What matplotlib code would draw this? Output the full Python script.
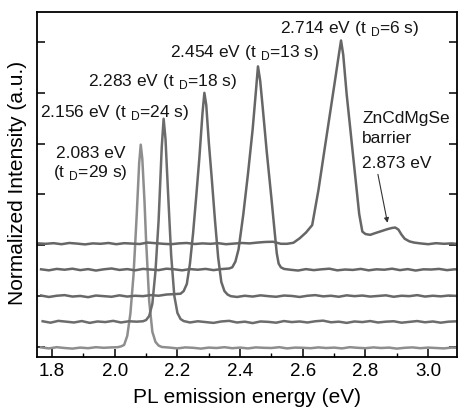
import matplotlib
matplotlib.use("Agg")
import matplotlib.pyplot as plt
from matplotlib.ticker import MultipleLocator

plt.rcParams['font.family'] = ['Liberation Sans', 'DejaVu Sans']
plt.rcParams['mathtext.fontset'] = 'custom'
plt.rcParams['mathtext.rm'] = 'Liberation Sans'

# --- spectra (energy in eV, intensity normalized to peak = 1) ---
e_2083 = [1.765, 1.79, 1.815, 1.84, 1.865, 1.89, 1.915, 1.94, 1.965, 1.99,
          2.01, 2.02, 2.03, 2.04, 2.05, 2.06, 2.07, 2.078, 2.083, 2.088, 2.095, 2.10,
          2.11, 2.12, 2.13, 2.14, 2.15,
          2.175, 2.20, 2.225, 2.25, 2.275, 2.30, 2.325, 2.35, 2.375, 2.40, 2.425, 2.45,
          2.475, 2.50, 2.525, 2.55, 2.575, 2.60, 2.625, 2.65, 2.675, 2.70, 2.725, 2.75,
          2.775, 2.80, 2.825, 2.85, 2.875, 2.90, 2.925, 2.95, 2.975, 3.00, 3.025, 3.05,
          3.075, 3.095]
i_2083 = [0.003, -0.002, 0.004, 0.000, -0.003, 0.002, -0.001, 0.004, 0.001, 0.003,
          0.004, 0.008, 0.015, 0.06, 0.17, 0.36, 0.65, 0.91, 1.0, 0.93, 0.72, 0.53,
          0.23, 0.08, 0.03, 0.012, 0.005,
          0.002, -0.002, 0.003, 0.001, -0.003, 0.002, 0.000, 0.004, -0.001, 0.002, -0.002, 0.003,
          0.001, 0.000, 0.004, -0.002, 0.002, 0.001, -0.001, 0.003, 0.000, 0.002, -0.002, 0.004,
          0.001, -0.001, 0.003, 0.000, 0.002, -0.003, 0.001, 0.003, -0.001, 0.002, 0.000, -0.002,
          0.002, 0.001]

e_2156 = [1.77, 1.795, 1.82, 1.845, 1.87, 1.895, 1.92, 1.945, 1.97, 1.995, 2.02, 2.045, 2.07,
          2.09, 2.10, 2.11, 2.12, 2.13, 2.14, 2.15, 2.156, 2.162, 2.17, 2.18, 2.19, 2.20, 2.21, 2.22,
          2.24,
          2.265, 2.29, 2.315, 2.34, 2.365, 2.39, 2.415, 2.44, 2.465, 2.49, 2.515, 2.54, 2.565,
          2.59, 2.615, 2.64, 2.665, 2.69, 2.715, 2.74, 2.765, 2.79, 2.815, 2.84, 2.865, 2.89,
          2.915, 2.94, 2.965, 2.99, 3.015, 3.04, 3.065, 3.095]
i_2156 = [0.004, -0.003, 0.006, 0.002, -0.002, 0.005, -0.004, 0.003, 0.000, 0.006, -0.002, 0.004, 0.002,
          0.004, 0.01, 0.03, 0.09, 0.25, 0.50, 0.86, 1.0, 0.90, 0.64, 0.33, 0.13, 0.045, 0.015, 0.005,
          -0.002,
          0.004, 0.000, -0.004, 0.003, 0.006, -0.002, 0.002, -0.005, 0.003, 0.001, -0.003, 0.005, 0.000,
          0.003, -0.002, 0.004, 0.007, -0.001, 0.002, -0.004, 0.003, 0.000, 0.005, -0.002, 0.002, 0.004,
          -0.003, 0.001, 0.005, -0.001, 0.003, -0.003, 0.002, 0.004]

e_2283 = [1.765, 1.79, 1.815, 1.84, 1.865, 1.89, 1.915, 1.94, 1.965, 1.99, 2.015, 2.04, 2.065,
          2.09, 2.115, 2.14, 2.165, 2.19,
          2.21, 2.22, 2.23, 2.24, 2.25, 2.26, 2.27, 2.28, 2.286, 2.292, 2.30, 2.31, 2.32, 2.33,
          2.34, 2.35, 2.36, 2.37,
          2.39, 2.415, 2.44, 2.465, 2.49, 2.515, 2.54, 2.565, 2.59, 2.615, 2.64, 2.665, 2.69,
          2.715, 2.74, 2.765, 2.79, 2.815, 2.84, 2.865, 2.89, 2.915, 2.94, 2.965, 2.99, 3.015,
          3.04, 3.065, 3.095]
i_2283 = [0.003, -0.004, 0.002, 0.005, -0.002, 0.001, -0.005, 0.003, 0.000, -0.003, 0.004, -0.002, 0.002,
          0.000, 0.005, 0.002, 0.008, 0.010,
          0.012, 0.025, 0.06, 0.16, 0.31, 0.49, 0.68, 0.90, 1.0, 0.94, 0.76, 0.57, 0.37, 0.19,
          0.07, 0.025, 0.008, 0.0,
          -0.004, 0.002, -0.002, 0.004, 0.000, -0.003, 0.003, 0.001, -0.004, 0.002, 0.005, -0.001, 0.002,
          -0.003, 0.004, 0.000, 0.003, -0.002, 0.001, 0.004, -0.003, 0.002, 0.000, 0.005, -0.002, 0.002,
          -0.001, 0.003, 0.001]

e_2454 = [1.765, 1.79, 1.815, 1.84, 1.865, 1.89, 1.915, 1.94, 1.965, 1.99, 2.015, 2.04, 2.065,
          2.09, 2.115, 2.14, 2.165, 2.19, 2.215, 2.24, 2.265, 2.29, 2.315, 2.34, 2.365,
          2.375, 2.385, 2.395, 2.41, 2.425, 2.44, 2.45, 2.457, 2.464, 2.472, 2.485, 2.50, 2.51,
          2.517, 2.523, 2.53, 2.54,
          2.56, 2.585, 2.61, 2.635, 2.66, 2.685, 2.71, 2.735, 2.76, 2.785, 2.81, 2.835, 2.86,
          2.885, 2.91, 2.935, 2.96, 2.985, 3.01, 3.035, 3.06, 3.085, 3.095]
i_2454 = [0.002, -0.003, 0.004, 0.000, 0.005, -0.002, 0.003, -0.004, 0.002, 0.006, -0.001, 0.003, -0.003,
          0.004, 0.001, -0.002, 0.005, 0.002, -0.003, 0.003, 0.000, 0.004, -0.002, 0.003, 0.006,
          0.012, 0.04, 0.10, 0.27, 0.47, 0.69, 0.87, 1.0, 0.93, 0.80, 0.58, 0.35, 0.19,
          0.08, 0.03, 0.012, 0.004,
          0.000, -0.004, 0.003, -0.002, 0.002, 0.005, -0.003, 0.001, -0.001, 0.004, -0.003, 0.002, 0.000,
          0.005, -0.002, 0.003, -0.004, 0.002, 0.001, 0.004, -0.002, 0.002, 0.001]

e_2714 = [1.755, 1.78, 1.805, 1.83, 1.855, 1.88, 1.905, 1.93, 1.955, 1.98, 2.005, 2.03, 2.055,
          2.08, 2.105, 2.13, 2.155, 2.18, 2.205, 2.23, 2.255, 2.28, 2.305, 2.33, 2.355, 2.38,
          2.405, 2.43, 2.455, 2.48, 2.505, 2.53,
          2.55, 2.57, 2.59, 2.61, 2.63, 2.65, 2.67, 2.69, 2.705, 2.715, 2.722, 2.729, 2.74, 2.75,
          2.76, 2.77, 2.78, 2.79, 2.80, 2.815, 2.83, 2.85, 2.87, 2.885, 2.895, 2.905, 2.915, 2.925,
          2.94, 2.955,
          2.975, 3.00, 3.025, 3.05, 3.075, 3.095]
i_2714 = [0.002, 0.000, 0.003, -0.002, 0.004, 0.001, -0.003, 0.002, 0.000, 0.004, -0.002, 0.003, 0.001,
          -0.001, 0.006, 0.003, 0.000, -0.002, 0.002, 0.004, -0.001, 0.002, 0.000, 0.003, -0.002, 0.001,
          0.004, 0.002, 0.006, 0.009, 0.010, 0.000,
          0.000, 0.005, 0.027, 0.055, 0.092, 0.265, 0.47, 0.673, 0.826, 0.93, 1.0, 0.93, 0.735, 0.588,
          0.44, 0.293, 0.146, 0.06, 0.048, 0.044, 0.052, 0.062, 0.072, 0.078, 0.08, 0.07, 0.045, 0.025,
          0.012, 0.006,
          0.002, -0.002, 0.003, 0.000, 0.002, -0.001]

energies = [e_2083, e_2156, e_2283, e_2454, e_2714]
intensities = [i_2083, i_2156, i_2283, i_2454, i_2714]
offsets = [-0.02, 0.49, 1.0, 1.52, 2.03]
scale = 4.0
colors = ['#8e8e8e', '#6c6c6c', '#686868', '#666666', '#666666']

# peak labels: (text, x, y) in data units, y = baseline of text
labels = [
    ("2.714 eV (t $_\\mathrm{D}$=6 s)", 2.527, 6.17),
    ("2.454 eV (t $_\\mathrm{D}$=13 s)", 2.176, 5.71),
    ("2.283 eV (t $_\\mathrm{D}$=18 s)", 1.915, 5.13),
    ("2.156 eV (t $_\\mathrm{D}$=24 s)", 1.762, 4.52),
    ("2.083 eV", 1.813, 3.72),
    ("(t $_\\mathrm{D}$=29 s)", 1.803, 3.34),
    ("ZnCdMgSe", 2.789, 4.41),
    ("barrier", 2.789, 4.01),
    ("2.873 eV", 2.789, 3.52),
]

fig = plt.figure(figsize=(4.58, 4.09), dpi=100)
ax = fig.add_axes([37 / 458, 1 - 357 / 409, 420 / 458, 345 / 409])

for e, inten, off, c in zip(energies, intensities, offsets, colors):
    ax.plot(e, [off + scale * v for v in inten], color=c, lw=1.8, solid_joinstyle='round')

for txt, x, y in labels:
    ax.text(x, y, txt, fontsize=12.5, color='#151515', va='baseline', ha='left')

ax.annotate("", xy=(2.872, 2.39), xytext=(2.838, 3.45),
            arrowprops=dict(arrowstyle='-|>', color='#333333', lw=0.8, mutation_scale=7))

ax.set_xlim(1.752, 3.092)
ax.set_ylim(-0.197, 6.59)
ax.xaxis.set_major_locator(MultipleLocator(0.2))
ax.xaxis.set_minor_locator(MultipleLocator(0.1))
ax.yaxis.set_major_locator(MultipleLocator(1))
ax.tick_params(axis='x', which='major', direction='in', length=6, width=1.1, labelsize=13.5, pad=4.5)
ax.tick_params(axis='x', which='minor', direction='in', length=3, width=1.0)
ax.tick_params(axis='y', which='major', direction='in', length=6, width=1.1, left=True, right=True,
               labelleft=False)
for s in ax.spines.values():
    s.set_linewidth(1.3)

fig.text(247.5 / 458, 1 - 403 / 409, "PL emission energy (eV)", fontsize=15, ha='center', va='baseline')
fig.text(18 / 458, 1 - 182.5 / 409, "Normalized Intensity (a.u.)", fontsize=15, rotation=90,
         ha='center', va='center')

fig.savefig("out.png", dpi=100)
